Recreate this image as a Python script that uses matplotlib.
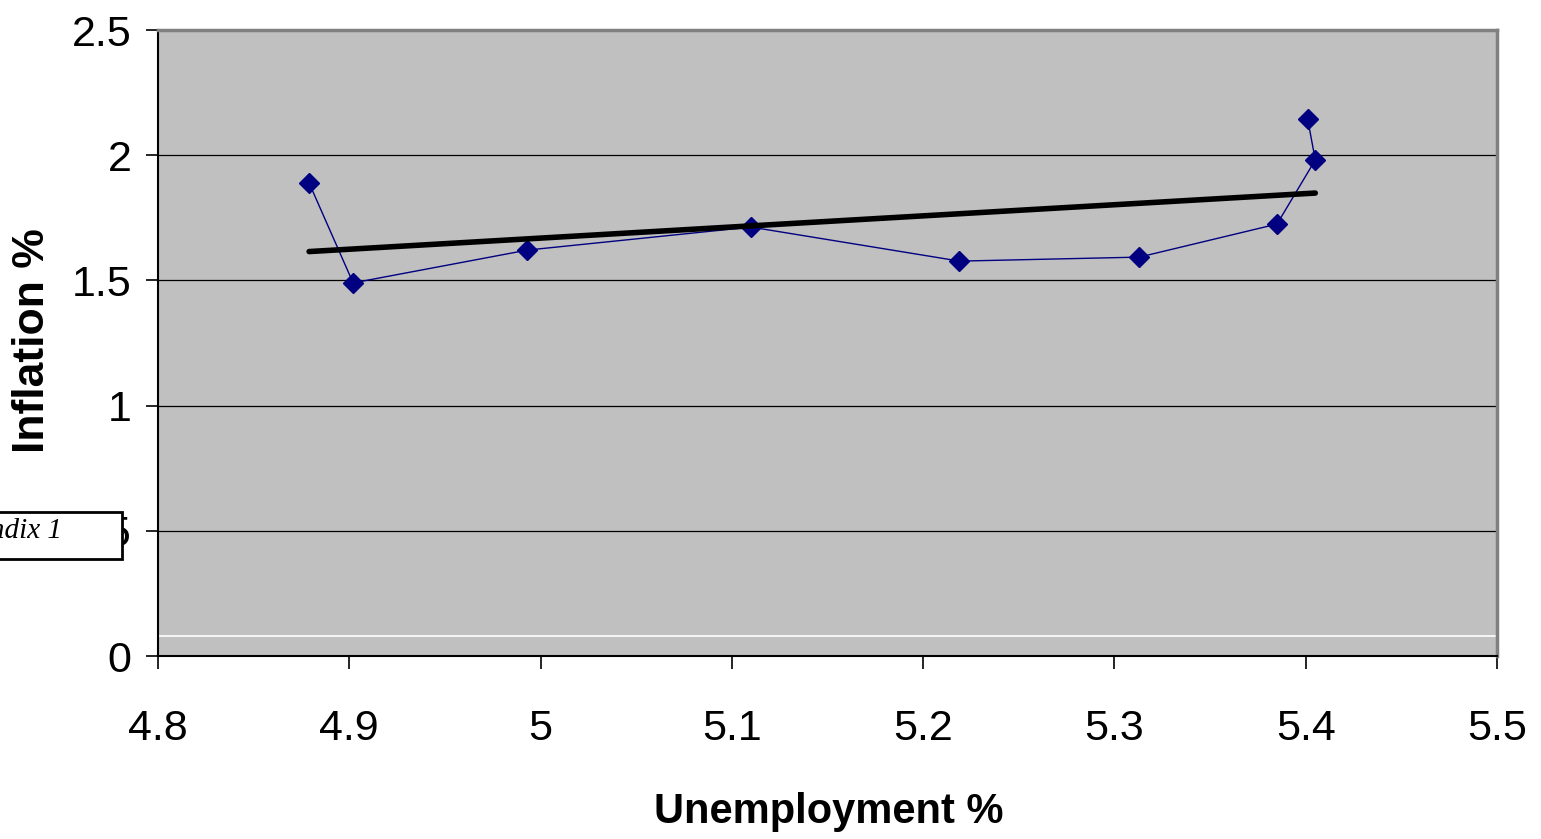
import numpy as np
import matplotlib.pyplot as plt
from matplotlib.patches import Rectangle

# unemployment vs inflation, plotted in time order
unemployment = [4.879, 4.902, 4.993, 5.110, 5.219, 5.313, 5.385, 5.405, 5.401]
inflation = [1.889, 1.490, 1.621, 1.713, 1.577, 1.593, 1.725, 1.981, 2.145]

x_ticks = [4.8, 4.9, 5.0, 5.1, 5.2, 5.3, 5.4, 5.5]
x_labels = ["4.8", "4.9", "5", "5.1", "5.2", "5.3", "5.4", "5.5"]
y_ticks = [0, 0.5, 1, 1.5, 2, 2.5]
y_labels = ["0", "0.5", "1", "1.5", "2", "2.5"]

plt.rcParams['font.family'] = ['Liberation Sans', 'DejaVu Sans']

W, H = 1541, 839
fig = plt.figure(figsize=(W / 100, H / 100), dpi=100)
ax = fig.add_axes([158 / W, 1 - 656 / H, 1339 / W, 626 / H])
ax.set_facecolor('#C0C0C0')

ax.set_xlim(4.8, 5.5)
ax.set_ylim(0, 2.5)

for y in y_ticks[1:-1]:
    ax.axhline(y, color='black', lw=0.9, zorder=1)
ax.axhline(0.08, color='white', lw=1.2, zorder=1)

ax.plot(unemployment, inflation, color='#000080', lw=1, marker='D',
        markersize=10, markerfacecolor='#000080', markeredgecolor='#000080',
        zorder=3)

# linear trend line
slope, intercept = np.polyfit(unemployment, inflation, 1)
xt = np.array([min(unemployment), max(unemployment)])
ax.plot(xt, slope * xt + intercept, color='black', lw=4, solid_capstyle='round',
        zorder=4)

ax.set_xticks(x_ticks)
ax.set_xticklabels(x_labels)
ax.set_yticks(y_ticks)
ax.set_yticklabels(y_labels)
ax.tick_params(axis='both', labelsize=31, length=9, width=1.2, direction='out')
ax.tick_params(axis='x', pad=29)
ax.tick_params(axis='y', pad=10)

for side in ['left', 'bottom']:
    ax.spines[side].set_color('black')
    ax.spines[side].set_linewidth(1.5)
for side in ['top', 'right']:
    ax.spines[side].set_color('#808080')
    ax.spines[side].set_linewidth(2.5)

fig.text(829 / W, 1 - 812 / H, 'Unemployment %', ha='center', va='center',
         fontsize=30, fontweight='bold')
fig.text(33 / W, 1 - 341 / H, 'Inflation %', ha='center', va='center',
         rotation=90, fontsize=32, fontweight='bold')

# appendix box at the left edge
fig.patches.append(Rectangle((-0.01, 1 - 559 / H), 0.01 + 122 / W, 47 / H,
                             transform=fig.transFigure, facecolor='white',
                             edgecolor='black', lw=2, zorder=10))
fig.text(63 / W, 1 - 531 / H, 'Appendix 1', ha='right', va='center',
         fontsize=21, style='italic', family='Liberation Serif', zorder=11)

fig.savefig('out.png', dpi=100)
